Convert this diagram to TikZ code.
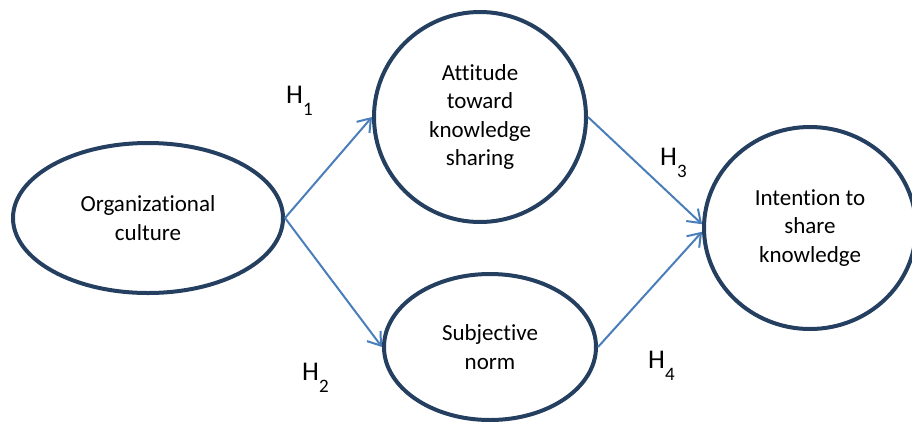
\documentclass[tikz,border=0pt]{standalone}
\usepackage{fontspec}
\setmainfont{Carlito}[Ligatures=CommonOff]
\usetikzlibrary{shapes.geometric,arrows.meta}
\definecolor{ovalblue}{HTML}{243F60}
\definecolor{linkblue}{HTML}{4A7EBB}
\newcommand{\hyp}[1]{H\raisebox{-12pt}{\fontsize{19pt}{19pt}\selectfont #1}}
\begin{document}
\begin{tikzpicture}[x=1pt, y=-1pt, every node/.style = {align=center, inner sep=0pt}]
			\tikzstyle{construct}=[shape=ellipse, draw=ovalblue, line width=4pt, font=\fontsize{23pt}{28.5pt}\selectfont]
			\tikzstyle{link}=[draw=linkblue, line width=2pt, -{Straight Barb[length=12pt, width=17pt]}]
			\tikzstyle{hlabel}=[anchor=base west, font=\fontsize{27pt}{27pt}\selectfont]
			\useasboundingbox (0,0) rectangle (912,421);
			\node[construct, minimum width=270pt, minimum height=150pt] (org) at (148,218) {Organizational\\culture};
			\node[construct, minimum width=212pt, minimum height=210pt] (att) at (480,117) {Attitude\\toward\\knowledge\\sharing};
			\node[construct, minimum width=212pt, minimum height=146pt] (norm) at (490,347) {Subjective\\norm};
			\node[construct, minimum width=212pt, minimum height=202pt] (intent) at (810,228) {Intention to\\share\\knowledge};
			\draw[link] (org.east) -- (att.west);
			\draw[link] (org.east) -- (norm.west);
			\draw[link] (att.east) -- (intent.178);
			\draw[link] (norm.east) -- (intent.182);
			\node[hlabel] (h1) at (286,103) {\hyp{1}};
			\node[hlabel] (h2) at (302,380) {\hyp{2}};
			\node[hlabel] (h3) at (660,165) {\hyp{3}};
			\node[hlabel] (h4) at (648,368) {\hyp{4}};
		\end{tikzpicture}
\end{document}
